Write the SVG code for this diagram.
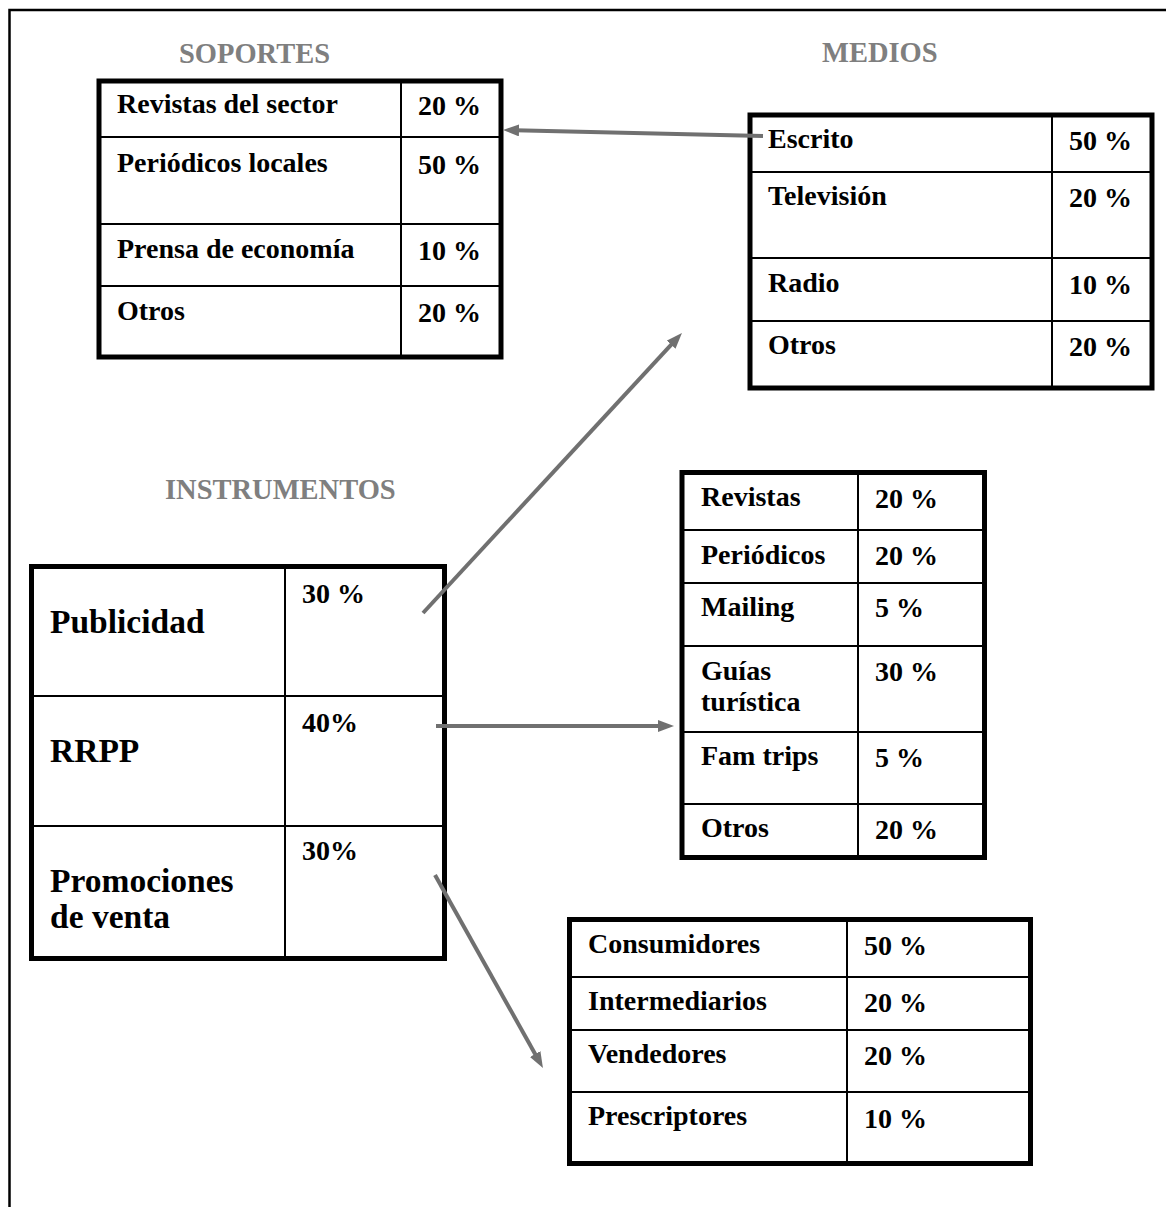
<svg xmlns="http://www.w3.org/2000/svg" width="1166" height="1207" viewBox="0 0 1166 1207">
  <style>
    .frame { fill: none; stroke: #000; stroke-width: 2.5; }
    .box { fill: none; stroke: #000; stroke-width: 5; }
    .grid { stroke: #000; stroke-width: 2; fill: none; }
    .cell { font-family: "Liberation Serif", "Times New Roman", serif; font-weight: bold; font-size: 28px; fill: #000; }
    .big { font-family: "Liberation Serif", "Times New Roman", serif; font-weight: bold; font-size: 33.5px; fill: #000; }
    .title { font-family: "Liberation Serif", "Times New Roman", serif; font-weight: bold; font-size: 28.5px; fill: #7f7f7f; }
    .link { stroke: #707070; stroke-width: 4; fill: none; marker-end: url(#head); }
  </style>
  <defs>
    <marker id="head" markerUnits="userSpaceOnUse" markerWidth="16" markerHeight="12" refX="4" refY="6" orient="auto">
      <path d="M0,0 L16,6 L0,12 z" fill="#707070"/>
    </marker>
  </defs>

  <rect width="1166" height="1207" fill="#fff"/>
  <rect class="frame" x="9.5" y="10" width="1180" height="1220"/>

  <!-- section headings -->
  <g id="titles">
    <text class="title" x="179" y="63">SOPORTES</text>
    <text class="title" x="822" y="62">MEDIOS</text>
    <text class="title" x="165" y="499">INSTRUMENTOS</text>
  </g>

  <!-- Soportes table -->
  <g id="soportes">
    <path class="grid" d="M401,81 V357 M99,137 H501 M99,224 H501 M99,286 H501"/>
    <rect class="box" x="99" y="81" width="402" height="276"/>
    <text class="cell" x="117" y="113">Revistas del sector</text>
    <text class="cell" x="418" y="115">20 %</text>
    <text class="cell" x="117" y="172">Periódicos locales</text>
    <text class="cell" x="418" y="174">50 %</text>
    <text class="cell" x="117" y="258">Prensa de economía</text>
    <text class="cell" x="418" y="260">10 %</text>
    <text class="cell" x="117" y="320">Otros</text>
    <text class="cell" x="418" y="322">20 %</text>
  </g>

  <!-- Medios table -->
  <g id="medios">
    <path class="grid" d="M1052,115 V388 M750,172 H1152 M750,258 H1152 M750,321 H1152"/>
    <rect class="box" x="750" y="115" width="402" height="273"/>
    <text class="cell" x="768" y="148">Escrito</text>
    <text class="cell" x="1069" y="150">50 %</text>
    <text class="cell" x="768" y="205">Televisión</text>
    <text class="cell" x="1069" y="207">20 %</text>
    <text class="cell" x="768" y="292">Radio</text>
    <text class="cell" x="1069" y="294">10 %</text>
    <text class="cell" x="768" y="354">Otros</text>
    <text class="cell" x="1069" y="356">20 %</text>
  </g>

  <!-- Instrumentos table -->
  <g id="instrumentos">
    <path class="grid" d="M285,566.5 V958.5 M31.5,696 H444.5 M31.5,826 H444.5"/>
    <rect class="box" x="31.5" y="566.5" width="413" height="392"/>
    <text class="big" x="50" y="633">Publicidad</text>
    <text class="cell" x="302" y="603">30 %</text>
    <text class="big" x="50" y="762">RRPP</text>
    <text class="cell" x="302" y="732">40%</text>
    <text class="big" x="50" y="892">Promociones</text>
    <text class="big" x="50" y="928">de venta</text>
    <text class="cell" x="302" y="860">30%</text>
  </g>

  <!-- Relaciones públicas table -->
  <g id="rrpp">
    <path class="grid" d="M858,472.5 V857.5 M682,530 H984.5 M682,583 H984.5 M682,646 H984.5 M682,732 H984.5 M682,804 H984.5"/>
    <rect class="box" x="682" y="472.5" width="302.5" height="385"/>
    <text class="cell" x="701" y="506">Revistas</text>
    <text class="cell" x="875" y="508">20 %</text>
    <text class="cell" x="701" y="564">Periódicos</text>
    <text class="cell" x="875" y="565">20 %</text>
    <text class="cell" x="701" y="616">Mailing</text>
    <text class="cell" x="875" y="617">5 %</text>
    <text class="cell" x="701" y="680">Guías</text>
    <text class="cell" x="701" y="711">turística</text>
    <text class="cell" x="875" y="681">30 %</text>
    <text class="cell" x="701" y="765">Fam trips</text>
    <text class="cell" x="875" y="767">5 %</text>
    <text class="cell" x="701" y="837">Otros</text>
    <text class="cell" x="875" y="839">20 %</text>
  </g>

  <!-- Promociones table -->
  <g id="promociones">
    <path class="grid" d="M847,919.5 V1163.5 M569.5,977 H1030.5 M569.5,1030 H1030.5 M569.5,1092 H1030.5"/>
    <rect class="box" x="569.5" y="919.5" width="461" height="244"/>
    <text class="cell" x="588" y="953">Consumidores</text>
    <text class="cell" x="864" y="955">50 %</text>
    <text class="cell" x="588" y="1010">Intermediarios</text>
    <text class="cell" x="864" y="1012">20 %</text>
    <text class="cell" x="588" y="1063">Vendedores</text>
    <text class="cell" x="864" y="1065">20 %</text>
    <text class="cell" x="588" y="1125">Prescriptores</text>
    <text class="cell" x="864" y="1128">10 %</text>
  </g>

  <!-- arrows -->
  <g id="connectors">
    <line class="link" x1="763" y1="136" x2="515" y2="130.3"/>
    <line class="link" x1="423" y1="613" x2="673.8" y2="341.8"/>
    <line class="link" x1="436" y1="726" x2="662" y2="726"/>
    <line class="link" x1="435" y1="875" x2="537.1" y2="1057.5"/>
  </g>
</svg>
